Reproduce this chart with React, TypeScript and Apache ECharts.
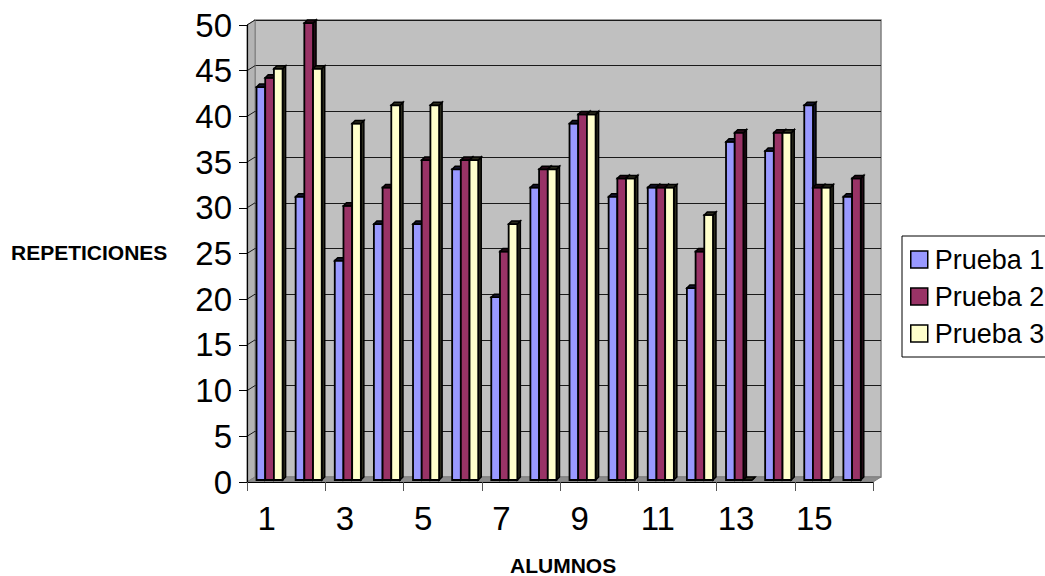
import React, { useEffect, useRef } from "react";
import * as echarts from "echarts";

const categories = ["1", "2", "3", "4", "5", "6", "7", "8", "9", "10", "11", "12", "13", "14", "15", "16"];
const prueba1 = [43, 31, 24, 28, 28, 34, 20, 32, 39, 31, 32, 21, 37, 36, 41, 31];
const prueba2 = [44, 50, 30, 32, 35, 35, 25, 34, 40, 33, 32, 25, 38, 38, 32, 33];
const prueba3: (number | null)[] = [45, 45, 39, 41, 41, 35, 28, 34, 40, 33, 32, 29, 0, 38, 32, null];
const seriesNames = ["Prueba 1", "Prueba 2", "Prueba 3"];
const yTicks = [0, 5, 10, 15, 20, 25, 30, 35, 40, 45, 50];

const FONT = 'Arial, "Liberation Sans", sans-serif';
const COLORS = ["#9999FF", "#993366", "#FFFFCC"];
const SIDE = ["#14142e", "#240a16", "#2a2a1c"];

// layout (front plane) and 3D depth offset
const W = 1045, H = 576;
const FL = 247, FT = 25, FR = 873, FB = 482;
const DX = 8, DY = -5;

function makeRender(k: number) {
  return (params: any, api: any) => {
    const cat = api.value(0);
    const val = api.value(1);
    if (val === null || val === undefined || isNaN(val)) return null;
    const base = api.coord([cat, 0]);
    const top = api.coord([cat, val]);
    const band = api.size([1, 0])[0];
    const bw = band / 4.5;
    const ox = 3, oy = -2, d = 3;
    const x0 = base[0] - 1.5 * bw + k * bw + ox;
    const x1 = x0 + bw;
    const yb = base[1] + oy;
    const yt = top[1] + oy;
    return {
      type: "group",
      children: [
        {
          type: "polygon",
          shape: { points: [[x1, yt], [x1 + d, yt - d], [x1 + d, yb - d], [x1, yb]] },
          style: { fill: SIDE[k], stroke: "#000", lineWidth: 1.5, lineJoin: "miter" },
        },
        {
          type: "rect",
          shape: { x: x0, y: yt, width: bw, height: Math.max(0, yb - yt) },
          style: { fill: COLORS[k], stroke: "#000", lineWidth: 1.8 },
        },
        {
          type: "polygon",
          shape: { points: [[x0, yt], [x0 + d, yt - d], [x1 + d, yt - d], [x1, yt]] },
          style: { fill: SIDE[k], stroke: "#000", lineWidth: 1.5, lineJoin: "miter" },
        },
      ],
    };
  };
}

export default function App() {
  const ref = useRef<HTMLDivElement>(null);
  useEffect(() => {
    if (!ref.current) return;
    const chart = echarts.init(ref.current, null, { renderer: "svg" });
    const all = [prueba1, prueba2, prueba3];
    const option: any = {
      animation: false,
      backgroundColor: "#ffffff",
      grid: [
        { left: FL, top: FT, right: W - FR, bottom: H - FB, show: false },
        {
          left: FL + DX, top: FT + DY, right: W - FR - DX, bottom: H - FB - DY,
          show: true, backgroundColor: "#C0C0C0", borderColor: "#808080", borderWidth: 1.5, z: 0,
        },
      ],
      xAxis: [
        {
          type: "category", gridIndex: 0, data: categories, z: 5,
          axisLine: { lineStyle: { color: "#000", width: 1.2 } },
          axisTick: { show: true, length: 9, lineStyle: { color: "#555" } },
          axisLabel: { interval: 1, fontSize: 33, color: "#000", fontFamily: FONT, margin: 20 },
          splitLine: { show: false },
        },
        { type: "category", gridIndex: 1, data: categories, show: false },
      ],
      yAxis: [
        {
          type: "value", gridIndex: 0, min: 0, max: 50, interval: 5, z: 5,
          axisLine: { show: true, lineStyle: { color: "#000", width: 1.2 } },
          axisTick: { show: true, length: 8, lineStyle: { color: "#000" } },
          axisLabel: { fontSize: 33, color: "#000", fontFamily: FONT, margin: 15 },
          splitLine: { show: false },
        },
        {
          type: "value", gridIndex: 1, min: 0, max: 50, interval: 5,
          axisLine: { show: false }, axisTick: { show: false }, axisLabel: { show: false },
          splitLine: { show: true, lineStyle: { color: "#1a1a1a", width: 1.2 } },
        },
      ],
      legend: {
        orient: "vertical", left: 902, top: 236,
        itemWidth: 17, itemHeight: 17, itemGap: 10,
        padding: [10, 30, 10, 8],
        borderColor: "#000", borderWidth: 1, backgroundColor: "#fff",
        icon: "rect",
        itemStyle: { borderColor: "#000", borderWidth: 1.5 },
        textStyle: { fontSize: 27, color: "#000", fontFamily: FONT, padding: [0, 0, 0, 2] },
        data: seriesNames,
      },
      series: all.map((arr, k) => ({
        name: seriesNames[k],
        type: "custom",
        xAxisIndex: 0, yAxisIndex: 0,
        clip: false, z: 3,
        itemStyle: { color: COLORS[k] },
        renderItem: makeRender(k),
        data: arr.map((v, i) => [i, v === null ? NaN : v]),
      })),
    };
    chart.setOption(option);

    // 3D side wall, floor and side-wall grid lines, positioned through the axes
    const yF = (v: number) => chart.convertToPixel({ yAxisIndex: 0 }, v) as number;
    const yB = (v: number) => chart.convertToPixel({ yAxisIndex: 1 }, v) as number;
    const y0f = yF(0), y50f = yF(50), y0b = yB(0), y50b = yB(50);
    const graphics: any[] = [
      {
        type: "polygon", z: 1, silent: true,
        shape: { points: [[FL, y50f], [FL + DX, y50b], [FL + DX, y0b], [FL, y0f]] },
        style: { fill: "#B4B4B4", stroke: "#808080", lineWidth: 1 },
      },
      {
        type: "polygon", z: 1, silent: true,
        shape: { points: [[FL, y0f], [FR, y0f], [FR + DX, y0b], [FL + DX, y0b]] },
        style: { fill: "#8C8C8C", stroke: "#808080", lineWidth: 1 },
      },
    ];
    yTicks.forEach((v) => {
      if (v === 0) return;
      graphics.push({
        type: "line", z: 2, silent: true,
        shape: { x1: FL, y1: yF(v), x2: FL + DX, y2: yB(v) },
        style: { stroke: "#1a1a1a", lineWidth: 1 },
      });
    });
    graphics.push(
      {
        type: "text", left: 11, top: 242, z: 10,
        style: { text: "REPETICIONES", fontSize: 21, fontWeight: "bold", fill: "#000", fontFamily: FONT },
      },
      {
        type: "text", left: 510, top: 555, z: 10,
        style: { text: "ALUMNOS", fontSize: 21, fontWeight: "bold", fill: "#000", fontFamily: FONT },
      }
    );
    chart.setOption({ graphic: graphics });

    return () => chart.dispose();
  }, []);
  return (
    <div
      ref={ref}
      style={{ position: "absolute", left: 0, top: 0, width: W, height: H }}
    />
  );
}
